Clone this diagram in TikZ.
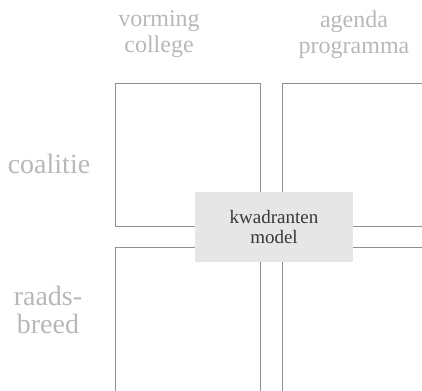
\documentclass[tikz,border=0pt]{standalone}
\usepackage{fontspec}
\setmainfont{Liberation Serif}
\definecolor{boxline}{HTML}{909090}
\definecolor{labelgray}{HTML}{B8B8B8}
\definecolor{centerfill}{HTML}{E6E6E6}
\definecolor{centertext}{HTML}{383838}
\tikzset{
  quadrant/.style={draw=boxline, line width=1.1pt, fill=white, inner sep=0pt, anchor=north west},
  headlabel/.style={text=labelgray, align=center, font=\fontsize{24}{26}\selectfont, inner sep=0pt},
  sidelabel/.style={text=labelgray, align=center, font=\fontsize{28}{28}\selectfont, inner sep=0pt},
  centerbox/.style={fill=centerfill, text=centertext, align=center, font=\fontsize{19}{19.5}\selectfont, minimum width=158pt, minimum height=70pt, inner sep=0pt}
}
\begin{document}
\begin{tikzpicture}[x=1pt,y=-1pt]
\useasboundingbox (0,0) rectangle (422,390);
\clip (0,0) rectangle (422,390);
\node[quadrant, minimum width=145pt, minimum height=143pt] (tl) at (115,83) {};
\node[quadrant, minimum width=160pt, minimum height=143pt] (tr) at (282,83) {};
\node[quadrant, minimum width=145pt, minimum height=160pt] (bl) at (115,247) {};
\node[quadrant, minimum width=160pt, minimum height=160pt] (br) at (282,247) {};
\node[centerbox] (center) at (274,227) {kwadranten\\model};
\node[headlabel] (col1) at (159,34.5) {vorming\\college};
\node[headlabel] (col2) at (354,34.5) {agenda\\programma};
\node[sidelabel] (row1) at (49,163.5) {coalitie};
\node[sidelabel] (row2) at (48,309.5) {raads-\\breed};
\end{tikzpicture}
\end{document}
